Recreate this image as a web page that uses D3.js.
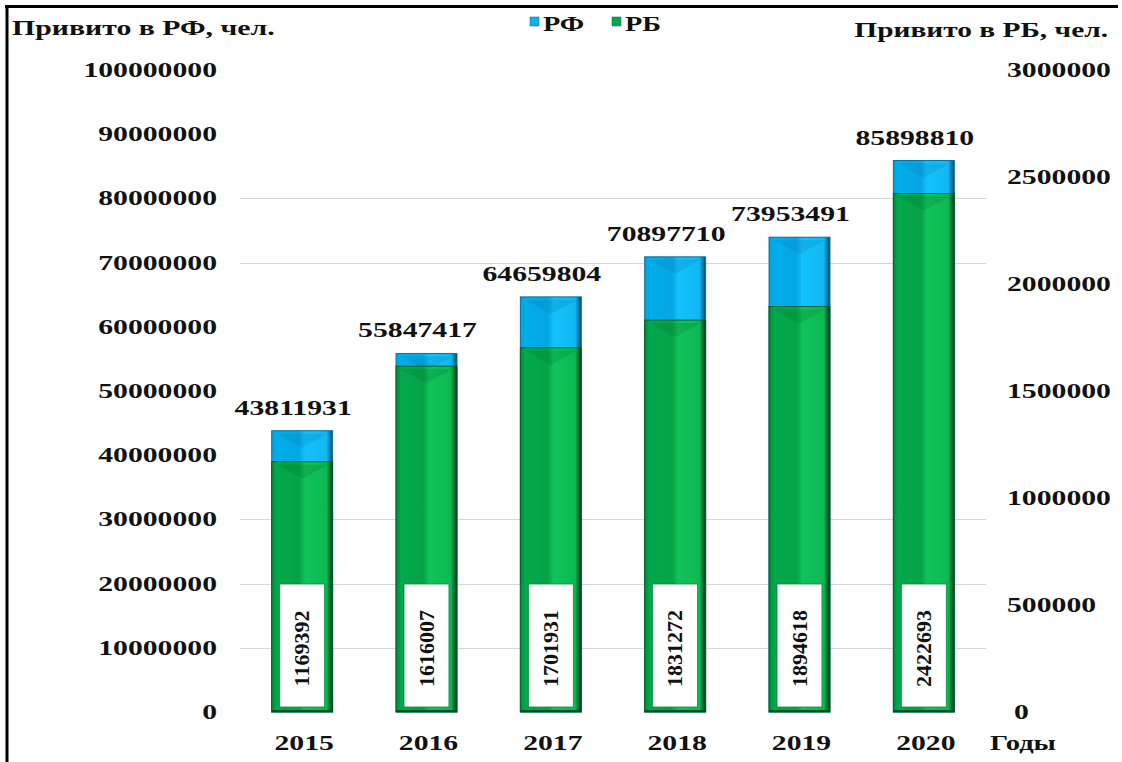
<!DOCTYPE html>
<html>
<head>
<meta charset="utf-8">
<script src="https://cdn.jsdelivr.net/npm/d3@7"></script>
<style>
  html, body { margin: 0; padding: 0; background: #fff; }
  svg { display: block; }
  text { font-family: "Liberation Serif", "Times New Roman", serif; font-weight: bold; fill: #111; }
</style>
</head>
<body>
<svg id="chart" width="1122" height="762"></svg>
<script>
// Vaccinated people: Russian Federation (left axis) and Republic of Bashkortostan (right axis)
const years = ["2015", "2016", "2017", "2018", "2019", "2020"];
const rfValues = [43811931, 55847417, 64659804, 70897710, 73953491, 85898810];
const rbValues = [1169392, 1616007, 1701931, 1831272, 1894618, 2422693];
const leftTicks = [0, 10000000, 20000000, 30000000, 40000000, 50000000, 60000000, 70000000, 80000000, 90000000, 100000000];
const rightTicks = [0, 500000, 1000000, 1500000, 2000000, 2500000, 3000000];
const gridValues = [10000000, 20000000, 30000000, 70000000, 80000000];
const seriesNames = ["РФ", "РБ"];
const leftTitle = "Привито в РФ, чел.";
const rightTitle = "Привито в РБ, чел.";
const xTitle = "Годы";

const svg = d3.select("#chart");
const W = 1122, H = 762;
const plot = { left: 240, right: 986, top: 70, bottom: 712 };
const SX = 1.35; // horizontal stretch of the lettering

const x = d3.scaleBand().domain(years)
  .range([plot.left, plot.right])
  .paddingInner(0.51).paddingOuter(0.255);
const yL = d3.scaleLinear().domain([0, 100000000]).range([plot.bottom, plot.top]);
const yR = d3.scaleLinear().domain([0, 3000000]).range([plot.bottom, plot.top]);
const fmt = d3.format("d");

// stretched text helper
function label(g, tx, ty, str, size, anchor, sx = SX) {
  return g.append("text")
    .attr("transform", `translate(${tx},${ty}) scale(${sx},1)`)
    .attr("text-anchor", anchor)
    .attr("font-size", size)
    .text(str);
}

// gradients
const defs = svg.append("defs");
function barGradient(id, stops) {
  const gr = defs.append("linearGradient").attr("id", id)
    .attr("x1", "0").attr("x2", "1").attr("y1", "0").attr("y2", "0");
  stops.forEach(([o, c]) => gr.append("stop").attr("offset", o).attr("stop-color", c));
}
barGradient("gBlue", [[0, "#0a9fd8"], [0.08, "#00aeea"], [0.45, "#04a6e2"], [0.55, "#14c2fb"], [0.9, "#10b8f2"], [0.96, "#0677a8"], [1, "#06405e"]]);
barGradient("gGreen", [[0, "#058a3a"], [0.08, "#03a94b"], [0.45, "#03a346"], [0.55, "#10c35a"], [0.9, "#0cb953"], [0.96, "#046b2c"], [1, "#03301a"]]);

// frame
svg.append("line").attr("x1", 7).attr("x2", 7).attr("y1", 5).attr("y2", H).attr("stroke", "#000").attr("stroke-width", 3);
svg.append("line").attr("x1", 5).attr("x2", 1118).attr("y1", 6.5).attr("y2", 6.5).attr("stroke", "#000").attr("stroke-width", 3);

// gridlines
svg.append("g").selectAll("line").data(gridValues).join("line")
  .attr("x1", plot.left).attr("x2", plot.right)
  .attr("y1", d => Math.round(yL(d)) + 0.5).attr("y2", d => Math.round(yL(d)) + 0.5)
  .attr("stroke", "#d6d6d6").attr("stroke-width", 1);

// left axis labels
const gl = svg.append("g");
leftTicks.forEach(t => label(gl, 217, yL(t) + 7, fmt(t), 22, "end"));
// right axis labels
const gr = svg.append("g");
rightTicks.forEach(t => label(gr, t === 0 ? 1014 : 1007, yR(t) + 7, fmt(t), 22, "start"));

// bevelled column
function column(g, cx, w, yTop, yBot, fill, edge, bevel) {
  const x0 = cx - w / 2;
  g.append("rect").attr("x", x0).attr("y", yTop).attr("width", w).attr("height", yBot - yTop)
    .attr("fill", fill).attr("stroke", edge).attr("stroke-width", 1);
  g.append("path")
    .attr("d", `M${x0 + 5},${yTop + 3} L${x0 + w - 5},${yTop + 3} L${cx},${yTop + 17} Z`)
    .attr("fill", bevel).attr("opacity", 0.22);
}

const bars = svg.append("g");
years.forEach((yr, i) => {
  const cx = x(yr) + x.bandwidth() / 2;
  const w = x.bandwidth();
  column(bars, cx, w, yL(rfValues[i]), plot.bottom, "url(#gBlue)", "#0b6e98", "#0776b0");
  column(bars, cx, w, yR(rbValues[i]), plot.bottom, "url(#gGreen)", "#04602a", "#047236");
  // bottom edge
  bars.append("line").attr("x1", cx - w / 2).attr("x2", cx + w / 2)
    .attr("y1", plot.bottom - 1).attr("y2", plot.bottom - 1).attr("stroke", "#03501f").attr("stroke-width", 2);
});

// RB value boxes inside green columns
const boxes = svg.append("g");
years.forEach((yr, i) => {
  const cx = x(yr) + x.bandwidth() / 2;
  const bw = x.bandwidth() - 16;
  const bTop = 584, bBot = 707;
  boxes.append("rect").attr("x", cx - bw / 2).attr("y", bTop).attr("width", bw).attr("height", bBot - bTop)
    .attr("fill", "#fff").attr("stroke", "#0a8a3e").attr("stroke-width", 0.8);
  boxes.append("text")
    .attr("transform", `translate(${cx + 7},${(bTop + bBot) / 2 + 3}) rotate(-90) scale(1.1,1.1)`)
    .attr("text-anchor", "middle").attr("font-size", 20)
    .text(fmt(rbValues[i]));
});

// RF totals above columns
const tops = svg.append("g");
years.forEach((yr, i) => {
  const cx = x(yr) + x.bandwidth() / 2 - 9;
  label(tops, cx, yL(rfValues[i]) - 16, fmt(rfValues[i]), 22, "middle");
});

// category labels
const gx = svg.append("g");
years.forEach(yr => label(gx, x(yr) + x.bandwidth() / 2 + 2, 750, yr, 22, "middle"));
label(gx, 990, 750, xTitle, 22, "start", 1.3);

// axis titles
label(svg, 12, 35, leftTitle, 21, "start", 1.42);
label(svg, 1108, 37, rightTitle, 21, "end", 1.4);

// legend
const legend = svg.append("g");
const legendItems = [
  { name: seriesNames[0], color: "#0fb2ee", x: 530 },
  { name: seriesNames[1], color: "#09a94a", x: 612 }
];
legendItems.forEach(d => {
  legend.append("rect").attr("x", d.x).attr("y", 17).attr("width", 9).attr("height", 9)
    .attr("fill", d.color).attr("stroke", "#0b5f7a").attr("stroke-width", 0.5);
  label(legend, d.x + 13, 31, d.name, 21, "start", 1.35);
});
</script>
</body>
</html>
